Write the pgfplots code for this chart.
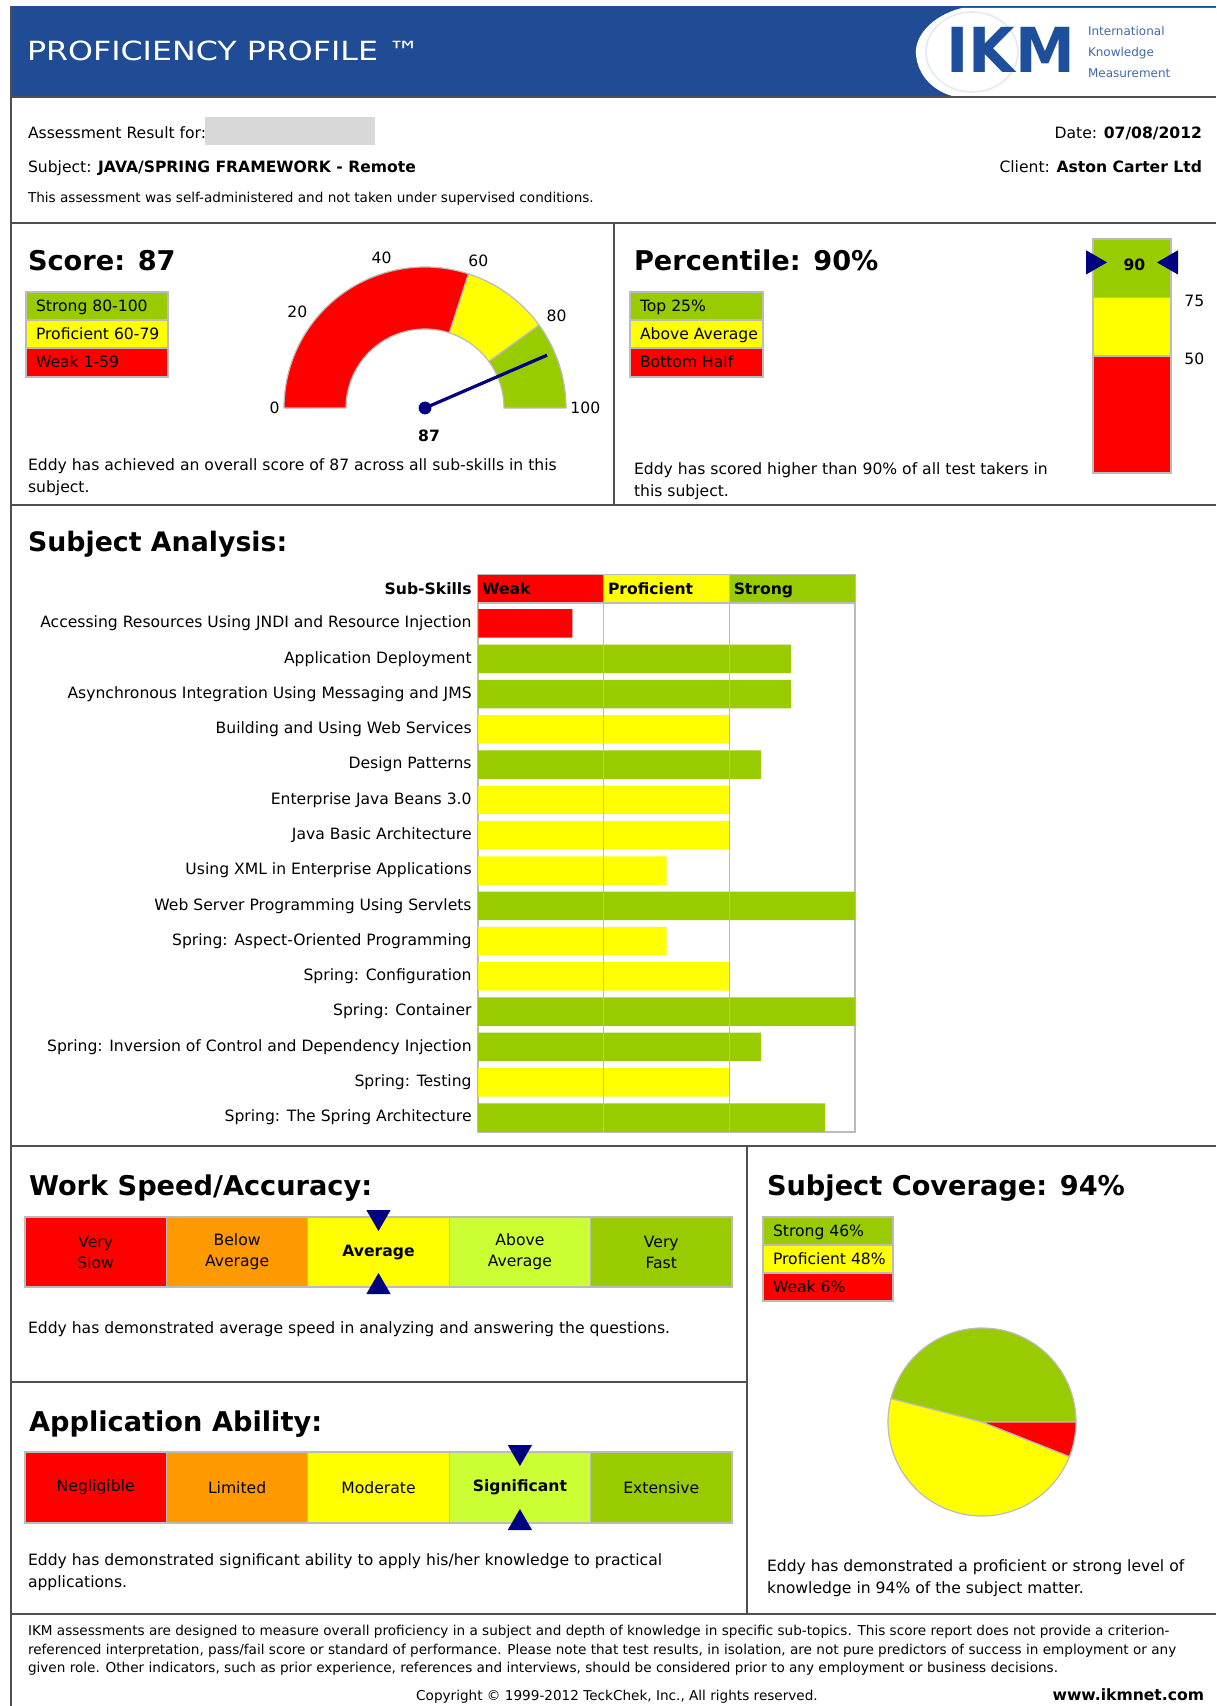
\documentclass[border=0pt]{standalone}
\usepackage{fontspec}
\setmainfont{DejaVu Sans}
\usepackage{pgfplots}
\usepackage{pgfplotstable}
\pgfplotsset{compat=1.18}

\definecolor{hdrblue}{HTML}{1F4C94}
\definecolor{logoblue}{HTML}{1E4F9C}
\definecolor{cred}{HTML}{FF0000}
\definecolor{cyel}{HTML}{FFFF00}
\definecolor{cgrn}{HTML}{99CC00}
\definecolor{corg}{HTML}{FF9900}
\definecolor{clgr}{HTML}{CCFF33}
\definecolor{cnavy}{HTML}{000080}
\definecolor{bord}{HTML}{BBBBBB}
\definecolor{framec}{HTML}{505050}
\definecolor{redact}{HTML}{D8D8D8}

\newcommand\bodyf{\fontsize{7.8pt}{10.5pt}\selectfont}
\newcommand\headf{\fontsize{13.6pt}{16pt}\selectfont\bfseries}
\newcommand\smallf{\fontsize{6.8pt}{8.5pt}\selectfont}

% ---------- data ----------
\pgfplotstableread{
row weak prof strong
0  25   0    0
1  0    0    83
2  0    0    83
3  0    66.7 0
4  0    0    75
5  0    66.7 0
6  0    66.7 0
7  0    50   0
8  0    0    100
9  0    50   0
10 0    66.7 0
11 0    0    100
12 0    0    75
13 0    66.7 0
14 0    0    92
}\skills

\pgfplotstableread{
x upper
0.5 100
}\pctTop
\pgfplotstableread{
x upper
0.5 75
}\pctMid
\pgfplotstableread{
x upper
0.5 50
}\pctLow

\tikzset{T/.style={inner sep=0pt, outer sep=0pt, anchor=mid west, font=\bodyf},
         TR/.style={T, anchor=mid east}}
\pgfplotsset{common/.style={scale only axis, clip=false,
  /pgf/number format/assume math mode=true}}

% gauge band: lo hi colour (values 0..100 -> 180..0 degrees)
\newcommand\gband[3]{%
  \fill[#3, draw=bord, line width=0.6pt]
    (axis cs:{141*cos(180-1.8*#1)},{141*sin(180-1.8*#1)})
    arc[start angle={180-1.8*#1}, end angle={180-1.8*#2}, radius=70.5pt]
    -- (axis cs:{79*cos(180-1.8*#2)},{79*sin(180-1.8*#2)})
    arc[start angle={180-1.8*#2}, end angle={180-1.8*#1}, radius=39.5pt]
    -- cycle;}
% pie slice: start% end% colour
\newcommand\pslice[3]{%
  \fill[#3, draw=bord, line width=0.6pt] (axis cs:0,0)
    -- (axis cs:{94*cos(3.6*#1)},{94*sin(3.6*#1)})
    arc[start angle={3.6*#1}, end angle={3.6*#2}, radius=47pt] -- cycle;}
\newcommand\legbox[6]{%
  \filldraw[fill=#5, draw=bord, line width=0.6pt] (#1,#2) rectangle (#3,#4);
  \node[T] at ({#1+10},{(#2+#4)/2}) {#6};}

\begin{document}
\begin{tikzpicture}
\path[use as bounding box] (0pt,0pt) rectangle (608pt,-853pt);
\begin{scope}[x=0.5pt,y=-0.5pt]
\fill[white] (0,0) rectangle (1216,1706);
% ---------- header ----------
\fill[hdrblue] (11,6) rectangle (1216,97);
\fill[white] (1216,8) -- (962,8) .. controls (930,16) and (914,38) .. (916,55)
   .. controls (918,75) and (932,90) .. (952,96) -- (1216,96) -- cycle;
\draw[logoblue!12, line width=0.8pt] (972,52) ellipse [x radius=46, y radius=40];
\node[T, text=white, font=\fontsize{13.2pt}{15pt}\selectfont, xscale=1.2] at (27,55) {PROFICIENCY PROFILE ™};
\node[inner sep=0pt, anchor=base west, text=logoblue, font=\fontsize{31pt}{31pt}\selectfont\bfseries, xscale=0.97] at (946,73) {IKM};
\node[T, text=logoblue!85, font=\fontsize{6pt}{7pt}\selectfont] at (1088,30.5) {International};
\node[T, text=logoblue!85, font=\fontsize{6pt}{7pt}\selectfont] at (1088,51.5) {Knowledge};
\node[T, text=logoblue!85, font=\fontsize{6pt}{7pt}\selectfont] at (1088,72.5) {Measurement};

% ---------- frame lines ----------
\begin{scope}[framec, line width=1pt]
\draw (11,6) -- (11,1706);
\draw (11,97) -- (1216,97);
\draw (11,223) -- (1216,223);
\draw (11,505) -- (1216,505);
\draw (614,223) -- (614,505);
\draw (11,1146) -- (1216,1146);
\draw (747,1146) -- (747,1614);
\draw (11,1382) -- (747,1382);
\draw (11,1614) -- (1216,1614);
\end{scope}

% ---------- info ----------
\node[T] at (28,133) {Assessment Result for:};
\fill[redact] (205,117) rectangle (375,145);
\node[TR] at (1202,133) {Date: \textbf{07/08/2012}};
\node[T] at (28,167) {Subject: \textbf{JAVA/SPRING FRAMEWORK - Remote}};
\node[TR] at (1202,167) {Client: \textbf{Aston Carter Ltd}};
\node[T, font=\smallf] at (28,197) {This assessment was self-administered and not taken under supervised conditions.};

% ---------- score ----------
\node[T, font=\headf] at (28,265) {Score: 87};
\legbox{26}{292}{168}{320}{cgrn}{Strong 80-100}
\legbox{26}{320}{168}{348}{cyel}{Proficient 60-79}
\legbox{26}{348}{168}{377}{cred}{Weak 1-59}
\node[T] at (28,465) {Eddy has achieved an overall score of 87 across all sub-skills in this};
\node[T] at (28,487) {subject.};

% ---------- percentile ----------
\node[T, font=\headf] at (634,265) {Percentile: 90\%};
\legbox{630}{292}{763}{320}{cgrn}{Top 25\%}
\legbox{630}{320}{763}{348}{cyel}{Above Average}
\legbox{630}{348}{763}{377}{cred}{Bottom Half}
\node[T] at (634,469) {Eddy has scored higher than 90\% of all test takers in};
\node[T] at (634,491) {this subject.};

% ---------- subject analysis ----------
\node[T, font=\fontsize{13.4pt}{16pt}\selectfont\bfseries] at (28,546) {Subject Analysis:};

% ---------- work speed ----------
\node[T, font=\headf] at (29,1190) {Work Speed/Accuracy:};
\node[T] at (28,1328) {Eddy has demonstrated average speed in analyzing and answering the questions.};

% ---------- application ----------
\node[T, font=\headf] at (29,1426) {Application Ability:};
\node[T] at (28,1560) {Eddy has demonstrated significant ability to apply his/her knowledge to practical};
\node[T] at (28,1582) {applications.};

% ---------- coverage ----------
\node[T, font=\headf] at (767,1190) {Subject Coverage: 94\%};
\legbox{763}{1217}{893}{1245}{cgrn}{Strong 46\%}
\legbox{763}{1245}{893}{1273}{cyel}{Proficient 48\%}
\legbox{763}{1273}{893}{1301}{cred}{Weak 6\%}
\node[T] at (767,1566) {Eddy has demonstrated a proficient or strong level of};
\node[T] at (767,1588) {knowledge in 94\% of the subject matter.};

% ---------- footer ----------
\node[T, font=\smallf] at (28,1630) {IKM assessments are designed to measure overall proficiency in a subject and depth of knowledge in specific sub-topics. This score report does not provide a criterion-};
\node[T, font=\smallf] at (28,1649) {referenced interpretation, pass/fail score or standard of performance. Please note that test results, in isolation, are not pure predictors of success in employment or any};
\node[T, font=\smallf] at (28,1667) {given role. Other indicators, such as prior experience, references and interviews, should be considered prior to any employment or business decisions.};
\node[inner sep=0pt, anchor=mid, font=\smallf] at (617,1695) {Copyright © 1999-2012 TeckChek, Inc., All rights reserved.};
\node[TR, font=\bodyf\bfseries] at (1204,1695) {www.ikmnet.com};
\end{scope}

% ================= gauge =================
\begin{axis}[common, hide axis, at={(137.5pt,-224pt)}, anchor=south west,
  width=150pt, height=100pt, xmin=-150, xmax=150, ymin=-40, ymax=160]
\gband{0}{60}{cred}
\gband{60}{80}{cyel}
\gband{80}{100}{cgrn}
\draw[cnavy, line width=1.6pt] (axis cs:0,0) -- (axis cs:{133*cos(180-1.8*87)},{133*sin(180-1.8*87)});
\addplot[only marks, mark=*, mark size=3pt, cnavy] coordinates {(0,0)};
\node[inner sep=0pt, anchor=0,   font=\bodyf] at (axis cs:{145*cos(180)},{145*sin(180)}) {0};
\node[inner sep=0pt, anchor=324, font=\bodyf] at (axis cs:{149*cos(143)},{149*sin(143)}) {20};
\node[inner sep=0pt, anchor=288, font=\bodyf] at (axis cs:{150*cos(106)},{150*sin(106)}) {40};
\node[inner sep=0pt, anchor=252, font=\bodyf] at (axis cs:{150*cos(70)},{150*sin(70)}) {60};
\node[inner sep=0pt, anchor=216, font=\bodyf] at (axis cs:{150*cos(35)},{150*sin(35)}) {80};
\node[inner sep=0pt, anchor=180, font=\bodyf] at (axis cs:{145*cos(0)},{145*sin(0)}) {100};
\node[inner sep=0pt, anchor=mid, font=\bodyf\bfseries] at (axis cs:4,-28) {87};
\end{axis}

% ================= percentile bar =================
\begin{axis}[common, hide axis, at={(546.5pt,-236.5pt)}, anchor=south west,
  width=39pt, height=117pt, xmin=0, xmax=1, ymin=0, ymax=100]
\addplot[ybar, bar width=39pt, bar shift=0pt, fill=cgrn, draw=bord, line width=0.6pt] table[x=x, y=upper] {\pctTop};
\addplot[ybar, bar width=39pt, bar shift=0pt, fill=cyel, draw=bord, line width=0.6pt] table[x=x, y=upper] {\pctMid};
\addplot[ybar, bar width=39pt, bar shift=0pt, fill=cred, draw=bord, line width=0.6pt] table[x=x, y=upper] {\pctLow};
\addplot[only marks, mark=triangle*, mark size=6.6pt, cnavy, mark options={rotate=-90}] coordinates {(0,90)};
\addplot[only marks, mark=triangle*, mark size=6.6pt, cnavy, mark options={rotate=90}] coordinates {(1,90)};
\node[inner sep=0pt, anchor=mid, font=\bodyf\bfseries] at (axis cs:0.53,89) {90};
\node[inner sep=0pt, anchor=mid west, font=\bodyf, xshift=6.5pt, yshift=-1.7pt] at (axis cs:1,75) {75};
\node[inner sep=0pt, anchor=mid west, font=\bodyf, xshift=6.5pt, yshift=-1.7pt] at (axis cs:1,50) {50};
\end{axis}

% ================= subject analysis =================
\begin{axis}[common, at={(239pt,-287.5pt)}, anchor=north west,
  width=188.5pt, height=278.5pt, xmin=0, xmax=100, ymin=-1.374, ymax=14.41,
  y dir=reverse, xtick=\empty, major tick length=0pt,
  axis line style={bord, line width=0.8pt},
  ytick={-0.978,0,1,2,3,4,5,6,7,8,9,10,11,12,13,14},
  yticklabels={\textbf{Sub-Skills},
    Accessing Resources Using JNDI and Resource Injection,
    Application Deployment,
    Asynchronous Integration Using Messaging and JMS,
    Building and Using Web Services,
    Design Patterns,
    Enterprise Java Beans 3.0,
    Java Basic Architecture,
    Using XML in Enterprise Applications,
    Web Server Programming Using Servlets,
    Spring: Aspect-Oriented Programming,
    Spring: Configuration,
    Spring: Container,
    Spring: Inversion of Control and Dependency Injection,
    Spring: Testing,
    Spring: The Spring Architecture},
  yticklabel style={font=\bodyf, inner sep=0pt, xshift=-3pt}]
\fill[cred] (axis cs:0,-1.374) rectangle (axis cs:33.33,-0.581);
\fill[cyel] (axis cs:33.33,-1.374) rectangle (axis cs:66.67,-0.581);
\fill[cgrn] (axis cs:66.67,-1.374) rectangle (axis cs:100,-0.581);
\addplot[xbar, bar width=14.25pt, bar shift=0pt, fill=cred, draw=none] table[x=weak, y=row] {\skills};
\addplot[xbar, bar width=14.25pt, bar shift=0pt, fill=cyel, draw=none] table[x=prof, y=row] {\skills};
\addplot[xbar, bar width=14.25pt, bar shift=0pt, fill=cgrn, draw=none] table[x=strong, y=row] {\skills};
\draw[bord, line width=0.8pt] (axis cs:33.33,-1.374) -- (axis cs:33.33,14.41);
\draw[bord, line width=0.8pt] (axis cs:66.67,-1.374) -- (axis cs:66.67,14.41);
\draw[bord, line width=0.8pt] (axis cs:0,-0.581) -- (axis cs:100,-0.581);
\node[inner sep=0pt, anchor=mid west, font=\bodyf\bfseries, xshift=2pt] at (axis cs:0,-0.978) {Weak};
\node[inner sep=0pt, anchor=mid west, font=\bodyf\bfseries, xshift=2pt] at (axis cs:33.33,-0.978) {Proficient};
\node[inner sep=0pt, anchor=mid west, font=\bodyf\bfseries, xshift=2pt] at (axis cs:66.67,-0.978) {Strong};
\end{axis}

% ================= work speed =================
\begin{axis}[common, hide axis, at={(12.5pt,-643.5pt)}, anchor=south west,
  width=353.5pt, height=35pt, xmin=0, xmax=5, ymin=0, ymax=1]
\addplot[ybar, bar width=70.7pt, bar shift=0pt, fill=cred, draw=bord, line width=0.6pt] coordinates {(0.5,1)};
\addplot[ybar, bar width=70.7pt, bar shift=0pt, fill=corg, draw=bord, line width=0.6pt] coordinates {(1.5,1)};
\addplot[ybar, bar width=70.7pt, bar shift=0pt, fill=cyel, draw=bord, line width=0.6pt] coordinates {(2.5,1)};
\addplot[ybar, bar width=70.7pt, bar shift=0pt, fill=clgr, draw=bord, line width=0.6pt] coordinates {(3.5,1)};
\addplot[ybar, bar width=70.7pt, bar shift=0pt, fill=cgrn, draw=bord, line width=0.6pt] coordinates {(4.5,1)};
\addplot[only marks, mark=triangle*, mark size=6.6pt, cnavy, mark options={rotate=180}] coordinates {(2.5,1)};
\addplot[only marks, mark=triangle*, mark size=6.6pt, cnavy] coordinates {(2.5,0)};
\node[align=center, inner sep=0pt, font=\bodyf] at (axis cs:0.5,0.5) {Very\\Slow};
\node[align=center, inner sep=0pt, font=\bodyf] at (axis cs:1.5,0.5) {Below\\Average};
\node[align=center, inner sep=0pt, font=\bodyf\bfseries] at (axis cs:2.5,0.5) {Average};
\node[align=center, inner sep=0pt, font=\bodyf] at (axis cs:3.5,0.5) {Above\\Average};
\node[align=center, inner sep=0pt, font=\bodyf] at (axis cs:4.5,0.5) {Very\\Fast};
\end{axis}

% ================= application ability =================
\begin{axis}[common, hide axis, at={(12.5pt,-761.5pt)}, anchor=south west,
  width=353.5pt, height=35.5pt, xmin=0, xmax=5, ymin=0, ymax=1]
\addplot[ybar, bar width=70.7pt, bar shift=0pt, fill=cred, draw=bord, line width=0.6pt] coordinates {(0.5,1)};
\addplot[ybar, bar width=70.7pt, bar shift=0pt, fill=corg, draw=bord, line width=0.6pt] coordinates {(1.5,1)};
\addplot[ybar, bar width=70.7pt, bar shift=0pt, fill=cyel, draw=bord, line width=0.6pt] coordinates {(2.5,1)};
\addplot[ybar, bar width=70.7pt, bar shift=0pt, fill=clgr, draw=bord, line width=0.6pt] coordinates {(3.5,1)};
\addplot[ybar, bar width=70.7pt, bar shift=0pt, fill=cgrn, draw=bord, line width=0.6pt] coordinates {(4.5,1)};
\addplot[only marks, mark=triangle*, mark size=6.6pt, cnavy, mark options={rotate=180}] coordinates {(3.5,1)};
\addplot[only marks, mark=triangle*, mark size=6.6pt, cnavy] coordinates {(3.5,0)};
\node[inner sep=0pt, font=\bodyf] at (axis cs:0.5,0.5) {Negligible};
\node[inner sep=0pt, font=\bodyf] at (axis cs:1.5,0.5) {Limited};
\node[inner sep=0pt, font=\bodyf] at (axis cs:2.5,0.5) {Moderate};
\node[inner sep=0pt, font=\bodyf\bfseries] at (axis cs:3.5,0.5) {Significant};
\node[inner sep=0pt, font=\bodyf] at (axis cs:4.5,0.5) {Extensive};
\end{axis}

% ================= coverage pie =================
\begin{axis}[common, hide axis, at={(441pt,-761pt)}, anchor=south west,
  width=100pt, height=100pt, xmin=-100, xmax=100, ymin=-100, ymax=100]
\pslice{0}{46}{cgrn}
\pslice{46}{94}{cyel}
\pslice{94}{100}{cred}
\end{axis}
\end{tikzpicture}
\end{document}
